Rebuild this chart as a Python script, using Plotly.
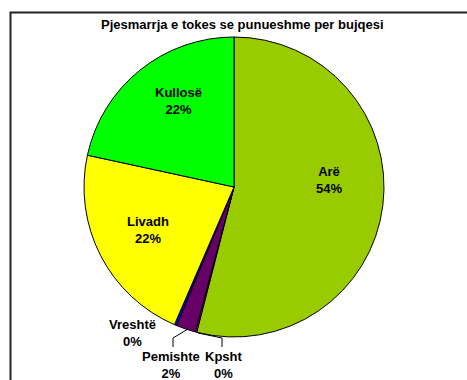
import plotly.graph_objects as go

# Share of arable land by use (%)
categories = ["Arë", "Kpsht", "Pemishte", "Vreshtë", "Livadh", "Kullosë"]
shares = [54.0, 0.15, 2.1, 0.25, 21.9, 21.6]
colors = ["#99CC00", "#FF00FF", "#660066", "#0000FF", "#FFFF00", "#00FF00"]
title_text = "Pjesmarrja e tokes se punueshme per bujqesi"

W, H = 467, 380
cx, cy, r = 234, 187, 150

fig = go.Figure(
    go.Pie(
        labels=categories,
        values=shares,
        sort=False,
        direction="clockwise",
        rotation=0,
        marker=dict(colors=colors, line=dict(color="#000000", width=1)),
        textinfo="none",
        hoverinfo="label+percent",
        showlegend=False,
        domain=dict(x=[(cx - r) / W, (cx + r) / W], y=[1 - (cy + r) / H, 1 - (cy - r) / H]),
    )
)

total = sum(shares)
pct = {c: f"{round(v / total * 100):.0f}%" for c, v in zip(categories, shares)}

# label anchor points (pixels from top-left)
label_pos = {
    "Arë": (329, 180),
    "Kpsht": (224, 365),
    "Pemishte": (171, 365),
    "Vreshtë": (132, 333),
    "Livadh": (148, 230),
    "Kullosë": (178, 101),
}

FONT = "Liberation Sans, Arial, sans-serif"

def px(x, y):
    return x / W, 1 - y / H

annotations = []
for c in categories:
    x, y = label_pos[c]
    ax, ay = px(x, y)
    annotations.append(
        dict(
            x=ax, y=ay, xref="paper", yref="paper",
            text=f"<b>{c}</b><br><b>{pct[c]}</b>",
            showarrow=False, xanchor="center", yanchor="middle",
            font=dict(family=FONT, size=13, color="#000000"),
        )
    )

tx, ty = px(242, 25)
annotations.append(
    dict(
        x=tx, y=ty, xref="paper", yref="paper",
        text=f"<b>{title_text}</b>", showarrow=False,
        xanchor="center", yanchor="middle",
        font=dict(family=FONT, size=13, color="#000000"),
    )
)

def path(points):
    pts = [px(x, y) for x, y in points]
    return "M " + " L ".join(f"{a},{b}" for a, b in pts)

shapes = [
    # chart frame
    dict(type="rect", xref="paper", yref="paper",
         x0=10.5 / W, x1=1.2, y0=-0.2, y1=1 - 12.5 / H,
         line=dict(color="#222222", width=2), fillcolor="rgba(0,0,0,0)", layer="below"),
    # leader lines for the small slices
    dict(type="path", xref="paper", yref="paper",
         path=path([(188, 329), (173, 338), (173, 347)]),
         line=dict(color="#000000", width=1)),
    dict(type="path", xref="paper", yref="paper",
         path=path([(198, 333), (222, 338), (222, 347)]),
         line=dict(color="#000000", width=1)),
]

fig.update_layout(
    width=W, height=H,
    margin=dict(l=0, r=0, t=0, b=0),
    paper_bgcolor="#FFFFFF",
    plot_bgcolor="#FFFFFF",
    annotations=annotations,
    shapes=shapes,
)

fig.write_html("out.html")
